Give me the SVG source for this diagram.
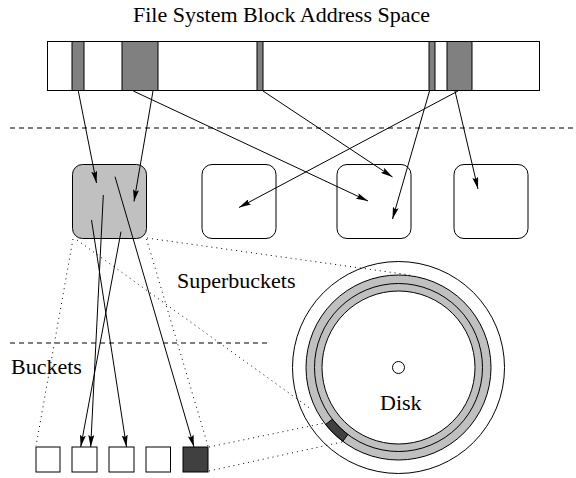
<svg xmlns="http://www.w3.org/2000/svg" width="576" height="478" viewBox="0 0 576 478">
<style>
text{font-family:"Liberation Serif","Times New Roman",serif;font-size:22px;fill:#000}
.bar{fill:#fff;stroke:#000;stroke-width:1}
.stripe{fill:#808080;stroke:#000;stroke-width:1}
.sb{fill:#fff;stroke:#000;stroke-width:1}
.bk{fill:#fff;stroke:#000;stroke-width:1}
.arr{stroke:#000;stroke-width:1;fill:none;marker-end:url(#ah)}
.dash{stroke:#000;stroke-width:1;stroke-dasharray:5 4;fill:none}
.dot{stroke:#000;stroke-width:1;stroke-dasharray:1 4;fill:none}
.thin{fill:none;stroke:#000;stroke-width:1}
</style>
<defs>
<marker id="ah" viewBox="0 0 12 6" refX="12" refY="3" markerWidth="12" markerHeight="6" markerUnits="userSpaceOnUse" orient="auto">
<path d="M0,0 L12,3 L0,6 L2,3 z" fill="#000"/>
</marker>
</defs>

<g id="title"><text x="133" y="22">File System Block Address Space</text></g>

<g id="address-space">
<rect class="bar" x="47.5" y="41.5" width="492" height="49"/>
<rect class="stripe" x="72" y="41.5" width="12" height="49"/>
<rect class="stripe" x="122" y="41.5" width="36" height="49"/>
<rect class="stripe" x="257" y="41.5" width="6" height="49"/>
<rect class="stripe" x="429" y="41.5" width="6" height="49"/>
<rect class="stripe" x="447" y="41.5" width="25" height="49"/>
</g>

<g id="separators">
<line class="dash" x1="10" y1="128" x2="576" y2="128"/>
<line class="dash" x1="10" y1="343" x2="270" y2="343"/>
</g>

<g id="superbucket-1"><rect x="72.5" y="164.5" width="74" height="74" rx="10" fill="#c0c0c0" stroke="#000"/></g>
<g id="superbucket-2"><rect class="sb" x="202" y="164.5" width="74" height="74" rx="10"/></g>
<g id="superbucket-3"><rect class="sb" x="337" y="164.5" width="74" height="74" rx="10"/></g>
<g id="superbucket-4"><rect class="sb" x="454" y="164.5" width="74" height="74" rx="10"/></g>

<g id="label-superbuckets"><text x="177" y="288">Superbuckets</text></g>
<g id="label-buckets"><text x="11" y="374">Buckets</text></g>

<g id="bucket-1"><rect class="bk" x="36" y="447" width="24" height="25"/></g>
<g id="bucket-2"><rect class="bk" x="72" y="447" width="25" height="25"/></g>
<g id="bucket-3"><rect class="bk" x="109" y="447" width="25" height="25"/></g>
<g id="bucket-4"><rect class="bk" x="146" y="447" width="24.5" height="25"/></g>
<g id="bucket-5"><rect x="183" y="447" width="25" height="25" fill="#404040" stroke="#000"/></g>

<g id="disk">
<circle class="thin" cx="398.5" cy="367.5" r="106"/>
<circle cx="398.5" cy="367.5" r="84.5" fill="none" stroke="#c0c0c0" stroke-width="16"/>
<circle class="thin" cx="398.5" cy="367.5" r="92.5"/>
<circle class="thin" cx="398.5" cy="367.5" r="84"/>
<circle class="thin" cx="398.5" cy="367.5" r="76.5"/>
<path d="M325.6,424.5 A92.5,92.5 0 0 0 342.9,441.3 L347.8,434.5 A84,84 0 0 1 332.3,419.2 Z" fill="#404040" stroke="#000" stroke-width="1"/>
<circle cx="398.5" cy="367.5" r="6" fill="#fff" stroke="#000" stroke-width="1"/>
<text x="380" y="410">Disk</text>
</g>

<g id="connectors">
<line class="arr" x1="78.3" y1="91" x2="96.5" y2="183"/>
<line class="arr" x1="153" y1="91" x2="134" y2="201.5"/>
<line class="arr" x1="133.3" y1="91" x2="368" y2="201"/>
<line class="arr" x1="263" y1="91" x2="392.5" y2="177"/>
<line class="arr" x1="429.5" y1="91" x2="392.5" y2="219"/>
<line class="arr" x1="455" y1="91" x2="478" y2="189"/>
<line class="arr" x1="458" y1="91" x2="239" y2="207.5"/>

<line class="arr" x1="121" y1="231.7" x2="80.7" y2="447"/>
<line class="arr" x1="103.3" y1="195" x2="90.7" y2="447"/>
<line class="arr" x1="91.5" y1="220" x2="126.5" y2="447"/>
<line class="arr" x1="115" y1="176.7" x2="194" y2="447"/>

<line class="dot" x1="73" y1="239" x2="36" y2="446"/>
<line class="dot" x1="146.5" y1="239" x2="208" y2="446"/>
<line class="dot" x1="77" y1="240" x2="311" y2="409"/>
<line class="dot" x1="147" y1="238" x2="410" y2="275"/>
<line class="dot" x1="209" y1="447" x2="325" y2="423"/>
<line class="dot" x1="209" y1="471" x2="342" y2="442"/>
</g>
</svg>
